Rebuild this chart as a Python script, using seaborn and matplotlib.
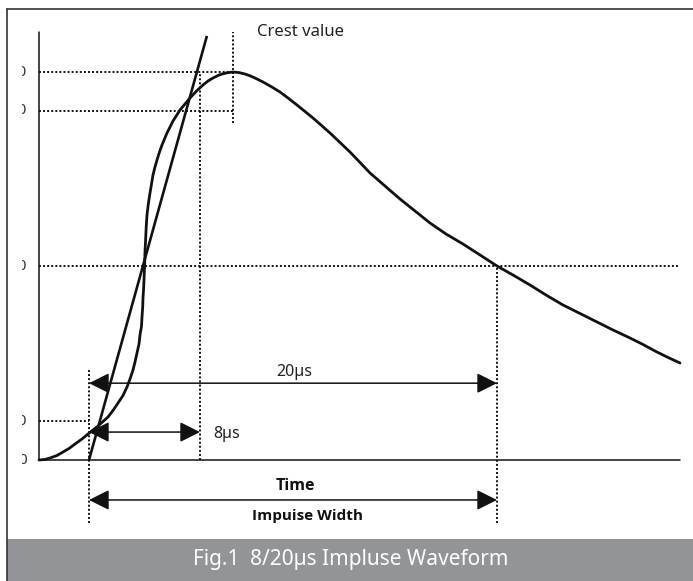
import matplotlib
matplotlib.use("Agg")
import seaborn as sns
from matplotlib import pyplot as plt
from matplotlib.patches import Rectangle
from matplotlib.lines import Line2D
from matplotlib.transforms import Bbox, TransformedBbox

# 8/20us impulse current
# time in us (virtual origin O1 = 0), current in % of crest value
time_us = [-2.451, -2.157, -1.912, -1.569, -1.275, -0.980, -0.686, -0.343,
           -0.049, 0.196, 0.441, 0.686, 0.931, 1.176, 1.422, 1.667, 1.863,
           2.010, 2.157, 2.255, 2.353, 2.451, 2.500, 2.574, 2.598, 2.632,
           2.647, 2.676, 2.696, 2.711, 2.725, 2.745, 2.775, 2.804, 2.843,
           2.907, 2.990, 3.064, 3.137, 3.235, 3.333, 3.456, 3.578, 3.701,
           3.824, 3.971, 4.118, 4.289, 4.461, 4.706, 4.951, 5.270, 5.588,
           5.833, 6.078, 6.324, 6.520, 6.765, 7.059, 7.353, 7.647, 7.892,
           8.137, 8.333, 8.529, 8.922, 9.363, 9.755, 10.196, 10.588, 10.980,
           11.373, 11.814, 12.304, 12.794, 13.284, 13.775, 14.510, 15.245,
           15.980, 16.716, 17.500, 18.333, 19.167, 20.000, 20.784, 21.618,
           22.402, 23.235, 24.069, 24.902, 25.686, 26.520, 27.157, 27.745,
           28.333, 28.971]
current_pct = [0.00, 0.13, 0.52, 1.16, 2.06, 2.96, 4.12, 5.41,
               6.70, 7.73, 8.76, 9.92, 11.08, 12.76, 14.69, 16.62, 18.81,
               20.88, 23.20, 25.26, 27.58, 29.90, 32.22, 34.54, 36.86, 39.43,
               41.75, 44.07, 46.39, 48.45, 50.00, 53.61, 56.70, 60.05, 63.14,
               65.98, 68.81, 71.13, 73.45, 75.52, 77.32, 79.38, 81.19, 82.73,
               84.28, 85.82, 87.37, 88.79, 90.21, 91.75, 93.30, 95.10, 96.65,
               97.68, 98.45, 99.10, 99.48, 99.79, 100.00, 99.85, 99.48, 99.02,
               98.45, 97.94, 97.42, 96.26, 94.85, 93.30, 91.49, 89.82, 88.14,
               86.34, 84.28, 81.83, 79.38, 76.68, 73.97, 70.62, 67.27,
               64.18, 61.08, 58.25, 55.67, 52.84, 50.00, 47.68, 45.10,
               42.53, 39.95, 37.76, 35.57, 33.51, 31.44, 29.77, 28.09,
               26.55, 25.00]

# front line through the 10 % and 90 % points
front_time = [0.0, 5.78]
front_pct = [0.0, 109.3]

levels = [100, 90, 50, 10, 0]
level_labels = ["100", "90", "50", "10", "0"]

t_start, t_end = -2.45, 28.97   # extent of the time axis
axis_top = 110.3                # top of the current axis
t_front = 5.44                  # front line reaches 100 %
t_crest = 7.06
t_half = 20.0                   # tail back at 50 %

W, H = 693, 581
# pixel -> data mapping so the whole picture is one axes
px_per_us, px_per_pct = 20.4, 3.88
x0_px, y0_px = 89, 460

sns.set_theme(style="white")
plt.rcParams["font.family"] = ["Noto Sans", "DejaVu Sans"]

fig = plt.figure(figsize=(W / 100, H / 100), dpi=100)
ax = fig.add_axes([0, 0, 1, 1])
ax.set_xlim(-x0_px / px_per_us, (W - x0_px) / px_per_us)
ax.set_ylim((y0_px - H) / px_per_pct, y0_px / px_per_pct)
ax.set_axis_off()

ink = "#111111"
dot = dict(color=ink, lw=1.4, ls=(0, (1, 1.1)))

# axes of the sketch
ax.plot([t_start, t_start], [0, axis_top], color=ink, lw=1.1)
ax.plot([t_start, t_end], [0, 0], color=ink, lw=1.1)

# dotted helper lines
ax.plot([t_start, t_crest], [100, 100], **dot)
ax.plot([t_start, t_crest], [90, 90], **dot)
ax.plot([t_start, t_end], [50, 50], **dot)
ax.plot([t_start, 0], [10, 10], **dot)
ax.plot([t_front, t_front], [0, 100], **dot)
ax.plot([t_crest, t_crest], [86.9, axis_top], **dot)
ax.plot([0, 0], [-16.3, 23.7], **dot)
ax.plot([t_half, t_half], [-16.3, 50], **dot)

# waveform and front line
sns.lineplot(x=time_us, y=current_pct, sort=False, estimator=None,
             color=ink, lw=2.0, ax=ax)
ax.plot(front_time, front_pct, color=ink, lw=1.9, solid_capstyle="butt")

# dimension arrows
arrow = dict(arrowstyle="<|-|>,head_length=0.4,head_width=0.2",
             mutation_scale=31, color=ink, lw=1.1, shrinkA=0, shrinkB=0)
for t_a, t_b, v in [(0, t_half, 19.8), (0, t_front, 7.2), (0, t_half, -10.3)]:
    ax.annotate("", xy=(t_b, v), xytext=(t_a, v), arrowprops=arrow)

txt = "#222222"
bold_font = ["Open Sans", "Liberation Sans", "DejaVu Sans"]
ax.text(10.05, 22.7, "20µs", fontsize=11.5, color=txt, ha="center", va="center")
ax.text(6.08, 6.7, "8µs", fontsize=11.5, color=txt, ha="left", va="center")
ax.text(8.24, 110.3, "Crest value", fontsize=12, color=txt, ha="left", va="center")
ax.text(10.1, -6.7, "Time", fontsize=11.5, fontweight="bold", color=ink,
        family=bold_font, ha="center", va="center")
ax.text(10.7, -14.4, "Impuise Width", fontsize=11, fontweight="bold", color=ink,
        family=bold_font, ha="center", va="center")

# tick labels, cut off by the picture's left edge
clip = TransformedBbox(Bbox([[22 / W, 0], [1, 1]]), fig.transFigure)
for v, lab in zip(levels, level_labels):
    t = ax.text(-3.04, v, lab, fontsize=11, color="#333333",
                ha="right", va="center")
    t.set_clip_box(clip)
    t.set_clip_on(True)

# frame and caption bar
fig.add_artist(Line2D([6.5 / W, 1], [1 - 8.5 / H, 1 - 8.5 / H],
                      transform=fig.transFigure, color="#333333", lw=1.2))
fig.add_artist(Line2D([6.5 / W, 6.5 / W], [0, 1 - 8.5 / H],
                      transform=fig.transFigure, color="#333333", lw=1.2))
fig.add_artist(Rectangle((7 / W, 0), 1, 42 / H, transform=fig.transFigure,
                         color="#939498", lw=0))
fig.text(351 / W, 21 / H, "Fig.1  8/20µs Impluse Waveform", color="white",
         fontsize=15, ha="center", va="center")

fig.savefig("out.png", dpi=100)
